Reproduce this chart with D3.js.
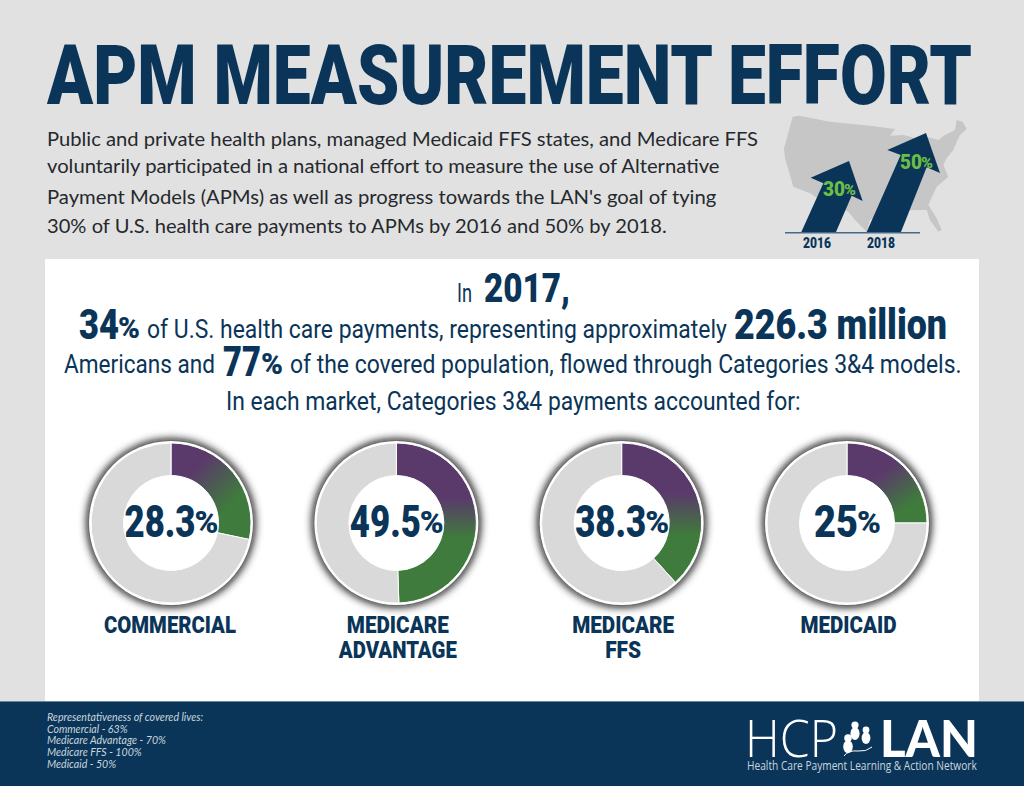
<!DOCTYPE html>
<html>
<head>
<meta charset="utf-8">
<title>APM Measurement Effort</title>
<script src="https://cdn.jsdelivr.net/npm/d3@7"></script>
<style>
  html, body { margin: 0; padding: 0; background: #e1e1e1; overflow: hidden; }
  svg { display: block; }
</style>
</head>
<body>
<svg id="chart" width="1024" height="786"></svg>
<script>
// values
var categories = ["COMMERCIAL", "MEDICARE ADVANTAGE", "MEDICARE FFS", "MEDICAID"];
var shares = [28.3, 49.5, 38.3, 25];
var coveredLabels = ["Commercial", "Medicare Advantage", "Medicare FFS", "Medicaid"];
var coveredLives = [63, 70, 100, 50];
var goalYears = [2016, 2018];
var goalValues = [30, 50];

var navy = "#0a3558", purple = "#5a3a6b", green = "#3f7b3c", grey = "#d9d9d9";
var cond = "Roboto, sans-serif", body = "Lato, sans-serif";

var svg = d3.select("#chart");
var defs = svg.append("defs");
defs.append("filter").attr("id", "blur")
  .attr("x", "-20%").attr("y", "-20%").attr("width", "140%").attr("height", "140%")
  .append("feGaussianBlur").attr("stdDeviation", 4.5);

// text squeezed between two x positions, the condensed faces are not installed
function fit(x0, x1, y, str, size, weight, color, font) {
  var t = svg.append("text")
    .attr("font-family", font || cond).attr("font-size", size)
    .attr("font-weight", weight || 400).attr("fill", color || navy)
    .text(str);
  var sx = (x1 - x0) / t.node().getComputedTextLength();
  t.attr("transform", "translate(" + x0 + "," + y + ") scale(" + sx + ",1)");
  return t;
}

// backgrounds
svg.append("rect").attr("width", 1024).attr("height", 786).attr("fill", "#e1e1e1");
svg.append("rect").attr("x", 45).attr("y", 259).attr("width", 934).attr("height", 442).attr("fill", "#fff");
svg.append("rect").attr("x", 0).attr("y", 701).attr("width", 1024).attr("height", 85).attr("fill", navy);
svg.append("rect").attr("x", 0).attr("y", 701).attr("width", 1024).attr("height", 1).attr("fill", "#6f8598");

// header
fit(47, 972, 104, "APM MEASUREMENT EFFORT", 83, 900);
var intro = [
  ["Public and private health plans, managed Medicaid FFS states, and Medicare FFS", 758, 146],
  ["voluntarily participated in a national effort to measure the use of Alternative", 720, 173],
  ["Payment Models (APMs) as well as progress towards the LAN's goal of tying", 717, 204],
  ["30% of U.S. health care payments to APMs by 2016 and 50% by 2018.", 667, 233]
];
intro.forEach(function(d) { fit(47, d[1], d[2], d[0], 18.5, 400, "#25292d", body); });

// map with the two goal arrows
var zx = d3.scaleLinear().domain([0, 630]).range([770, 980]);
var zy = d3.scaleLinear().domain([0, 450]).range([105, 255]);
var line = d3.line().x(function(d) { return zx(d[0]); }).y(function(d) { return zy(d[1]); });
var usOutline = [[68,35],[88,32],[180,50],[300,62],[375,72],[360,92],[400,90],[440,100],[470,95],[505,105],[525,90],[555,75],[560,45],[578,50],[590,72],[570,90],[560,110],[550,135],[530,160],[520,180],[535,215],[500,245],[475,300],[500,340],[515,375],[505,380],[480,345],[470,315],[430,315],[390,320],[340,320],[300,345],[290,380],[255,345],[235,320],[200,300],[160,290],[120,265],[70,245],[45,160],[42,130]];
svg.append("path").attr("d", line(usOutline) + "Z").attr("fill", "#c6c6c6");
var arrows = [
  [[93,383],[197,383],[245,272],[278,288],[237,168],[122,218],[160,235]],
  [[289,383],[392,383],[470,187],[510,204],[468,84],[352,135],[392,150]]
];
svg.selectAll("path.arrow").data(arrows).enter().append("path").attr("class", "arrow")
  .attr("d", function(d) { return line(d) + "Z"; }).attr("fill", navy);
svg.append("path").attr("d", line([[45,383],[450,383]])).attr("stroke", "#47698a").attr("stroke-width", 1.5);
var goalSpots = [{ x: 823, y: 196, year: 803 }, { x: 900, y: 169, year: 867 }];
goalSpots.forEach(function(p, i) {
  fit(p.x, p.x + 22, p.y, goalValues[i], 21, 900, "#6abd45");
  fit(p.x + 21, p.x + 33, p.y - 1, "%", 15, 900, "#6abd45");
  fit(p.year, p.year + 28, 248, goalYears[i], 15, 900);
});

// headline
fit(457, 472, 302, "In", 25);
fit(484, 570, 302, "2017,", 40, 900);
fit(79, 119, 339, "34", 42, 900);
fit(118, 140, 338, "%", 30, 900);
fit(147, 727, 338, "of U.S. health care payments, representing approximately", 26);
fit(734, 947, 339, "226.3 million", 42, 900);
fit(64, 215, 373, "Americans and", 26);
fit(223, 261, 376, "77", 42, 900);
fit(261, 283, 374, "%", 30, 900);
fit(290, 962, 373, "of the covered population, flowed through Categories 3&4 models.", 26);
fit(226, 801, 410, "In each market, Categories 3&4 payments accounted for:", 26);

// donuts
var cy = 523;
var xScale = d3.scalePoint().domain(categories).range([171, 847]);
var pie = d3.pie().sort(null).value(function(d) { return d; });
var arc = d3.arc().innerRadius(47.5).outerRadius(80);
var gradientDirs = [[20,-50,56,-15], [0,-25,0,15], [0,-30,0,12], [20,-40,45,-5]];
var rowWidths = { COMMERCIAL: 132, MEDICARE: 102, ADVANTAGE: 118, FFS: 36, MEDICAID: 96 };

categories.forEach(function(cat, i) {
  var cx = xScale(cat);
  var dir = gradientDirs[i];
  var grad = defs.append("linearGradient").attr("id", "fade" + i)
    .attr("gradientUnits", "userSpaceOnUse")
    .attr("x1", dir[0]).attr("y1", dir[1]).attr("x2", dir[2]).attr("y2", dir[3]);
  grad.append("stop").attr("offset", 0).attr("stop-color", purple);
  grad.append("stop").attr("offset", 1).attr("stop-color", green);

  var g = svg.append("g").attr("transform", "translate(" + cx + "," + cy + ")");
  g.append("circle").attr("r", 84).attr("fill", "#111").attr("filter", "url(#blur)");
  g.append("circle").attr("r", 82).attr("fill", "#fff");
  g.selectAll("path").data(pie([shares[i], 100 - shares[i]])).enter().append("path")
    .attr("d", arc)
    .attr("fill", function(d) { return d.index === 0 ? "url(#fade" + i + ")" : grey; })
    .attr("stroke", "#fff").attr("stroke-width", 1);

  // value in the hole
  var num = String(shares[i]);
  var w = num.length > 2 ? 71 : 44;
  var start = cx - (w + 22) / 2;
  fit(start, start + w, 537, num, 45, 900);
  fit(start + w - 1, start + w + 23, 533, "%", 32, 900);

  // name under the donut, two rows when it has two words
  cat.split(" ").forEach(function(r, k) {
    var c = cx + (i === 0 ? -1 : 1.5);
    fit(c - rowWidths[r] / 2, c + rowWidths[r] / 2, 633 + k * 25, r, 24.5, 900);
  });
});

// footer notes
var notes = ["Representativeness of covered lives:"].concat(coveredLabels.map(function(d, i) {
  return d + " - " + coveredLives[i] + "%";
}));
svg.selectAll("text.note").data(notes).enter().append("text").attr("class", "note")
  .attr("x", 47).attr("y", function(d, i) { return 721 + i * 11.7; })
  .attr("font-family", "Lato, sans-serif").attr("font-style", "italic")
  .attr("font-size", 10.6).attr("fill", "#c9d5df")
  .text(function(d) { return d; });

// logo
fit(745, 838, 757, "HCP", 52, 300, "#fff", "'Open Sans', sans-serif");
fit(880, 978, 757, "LAN", 51, 900, "#fff", "Lato, sans-serif");
fit(747, 977, 770, "Health Care Payment Learning & Action Network", 12, 400, "#c9d5df", "'Open Sans', sans-serif");
var people = [[855,725,3.6,6.5],[866,730,3.4,6],[848,738,3.8,6.5]];
people.forEach(function(p) {
  svg.append("circle").attr("cx", p[0]).attr("cy", p[1]).attr("r", p[2]).attr("fill", "#fff");
  svg.append("ellipse").attr("cx", p[0]).attr("cy", p[1] + p[2] + p[3] * 0.75)
    .attr("rx", p[2] + 1).attr("ry", p[3]).attr("fill", "#fff");
});
svg.append("path").attr("d", "M844 756 Q848 750 858 751 Q866 752 872 747")
  .attr("fill", "none").attr("stroke", "#fff").attr("stroke-width", 1);
</script>
</body>
</html>
